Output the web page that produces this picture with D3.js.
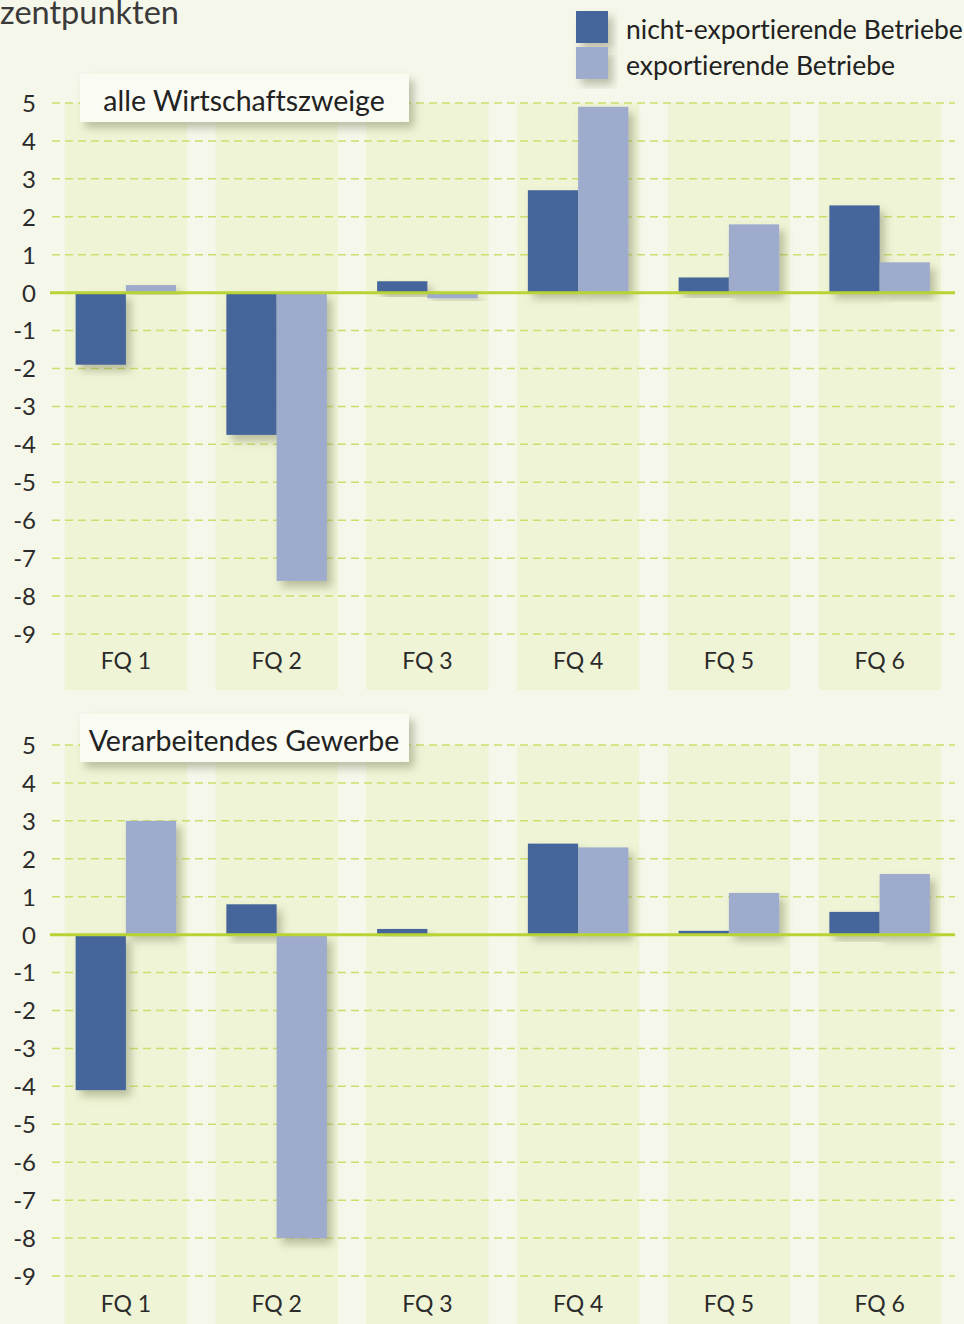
<!DOCTYPE html>
<html>
<head>
<meta charset="utf-8">
<script src="https://cdn.jsdelivr.net/npm/d3@7"></script>
<style>
  html, body { margin: 0; padding: 0; background: #f5f7ea; }
  svg { display: block; font-family: "Lato", "Noto Sans", sans-serif; font-variant-ligatures: none; }
</style>
</head>
<body>
<script>
// data
const categories = ["FQ 1", "FQ 2", "FQ 3", "FQ 4", "FQ 5", "FQ 6"]
const seriesNames = ["nicht-exportierende Betriebe", "exportierende Betriebe"]
const alleNicht = [-1.9, -3.75, 0.3, 2.7, 0.4, 2.3]
const alleExport = [0.2, -7.6, -0.15, 4.9, 1.8, 0.8]
const verarbNicht = [-4.1, 0.8, 0.15, 2.4, 0.1, 0.6]
const verarbExport = [3.0, -8.0, 0, 2.3, 1.1, 1.6]
const yTicks = [5, 4, 3, 2, 1, 0, -1, -2, -3, -4, -5, -6, -7, -8, -9]
const panelTitles = ["alle Wirtschaftszweige", "Verarbeitendes Gewerbe"]

const colors = ["#44659b", "#9eabcd"]
const width = 964, height = 1324

const svg = d3.select("body")
    .append("svg")
    .attr("width", width)
    .attr("height", height)

const defs = svg.append("defs")
const shadow = defs.append("filter")
    .attr("id", "shadow")
    .attr("x", "-30%").attr("y", "-30%")
    .attr("width", "160%").attr("height", "160%")
shadow.append("feDropShadow")
    .attr("dx", 5).attr("dy", 6)
    .attr("stdDeviation", 4.5)
    .attr("flood-color", "#6e7250")
    .attr("flood-opacity", 0.42)

svg.append("rect")
    .attr("width", width).attr("height", height)
    .attr("fill", "#f5f7ea")

const x = d3.scaleBand()
    .domain(categories)
    .range([50.5, 955])
    .paddingInner(0.19)
    .paddingOuter(0.095)

const x1 = d3.scaleBand()
    .domain(seriesNames)
    .range([0, x.bandwidth()])
    .paddingOuter(0.215)

const panels = [
    { title: panelTitles[0], top: 103, bottom: 634, bandTop: 103, bandBottom: 690, box: 74, data: [alleNicht, alleExport], labelY: 669 },
    { title: panelTitles[1], top: 745, bottom: 1276, bandTop: 745, bandBottom: 1324, box: 714, data: [verarbNicht, verarbExport], labelY: 1312 },
]

function drawPanel(p) {
    const y = d3.scaleLinear()
        .domain([-9, 5])
        .range([p.bottom, p.top])

    const g = svg.append("g")

    // column bands
    g.selectAll("rect.band")
        .data(categories)
        .join("rect")
        .attr("class", "band")
        .attr("x", d => x(d))
        .attr("y", p.bandTop)
        .attr("width", x.bandwidth())
        .attr("height", p.bandBottom - p.bandTop)
        .attr("fill", "#eff4d6")

    // dashed gridlines
    g.selectAll("line.grid")
        .data(yTicks.filter(d => d !== 0))
        .join("line")
        .attr("class", "grid")
        .attr("x1", 52).attr("x2", 955)
        .attr("y1", d => y(d)).attr("y2", d => y(d))
        .attr("stroke", "#cadf6e")
        .attr("stroke-width", 1.5)
        .attr("stroke-dasharray", "8,5")

    // y axis labels
    const yAxis = d3.axisLeft(y).tickValues(yTicks).tickSize(0).tickPadding(0)
        .tickFormat(d => d < 0 ? "-" + Math.abs(d) : d)
    const ax = g.append("g")
        .attr("transform", "translate(36,0)")
        .call(yAxis)
    ax.select(".domain").remove()
    ax.selectAll("text")
        .attr("font-size", 24)
        .attr("font-family", "Lato, 'Noto Sans', sans-serif")
        .attr("fill", "#2b2b2b")
        .attr("dy", "0.35em")

    // bars
    const rows = []
    categories.forEach((c, i) => {
        seriesNames.forEach((s, j) => {
            rows.push({ cat: c, series: s, value: p.data[j][i], j })
        })
    })
    g.append("g")
        .selectAll("rect")
        .data(rows.filter(d => d.value !== 0))
        .join("rect")
        .attr("x", d => x(d.cat) + x1(d.series))
        .attr("width", x1.bandwidth())
        .attr("y", d => y(Math.max(0, d.value)))
        .attr("height", d => Math.abs(y(d.value) - y(0)))
        .attr("fill", d => colors[d.j])
        .attr("filter", "url(#shadow)")

    // zero line
    g.append("line")
        .attr("x1", 50).attr("x2", 955)
        .attr("y1", y(0)).attr("y2", y(0))
        .attr("stroke", "#b8d334")
        .attr("stroke-width", 3)

    // category labels
    g.selectAll("text.cat")
        .data(categories)
        .join("text")
        .attr("class", "cat")
        .attr("x", d => x(d) + x.bandwidth() / 2)
        .attr("y", p.labelY)
        .attr("text-anchor", "middle")
        .attr("font-size", 23)
        .attr("fill", "#2b2b2b")
        .text(d => d)

    // panel title box
    g.append("rect")
        .attr("x", 80).attr("y", p.box)
        .attr("width", 329).attr("height", 48)
        .attr("fill", "#fafbf3")
        .attr("filter", "url(#shadow)")
    g.append("text")
        .attr("x", 244).attr("y", p.box + 37)
        .attr("text-anchor", "middle")
        .attr("font-size", 28.5)
        .attr("fill", "#222")
        .text(p.title)
}

panels.forEach(drawPanel)

// title fragment
svg.append("text")
    .attr("x", 0).attr("y", 24)
    .attr("font-size", 32.5)
    .attr("fill", "#3a3a3a")
    .text("zentpunkten")

// legend
const legend = svg.append("g")
seriesNames.forEach((s, i) => {
    legend.append("rect")
        .attr("x", 576).attr("y", 11 + i * 36)
        .attr("width", 32).attr("height", 32)
        .attr("fill", colors[i])
        .attr("filter", "url(#shadow)")
    legend.append("text")
        .attr("x", 626).attr("y", 39 + i * 36)
        .attr("font-size", 26.5)
        .attr("fill", "#222")
        .text(s)
})
</script>
</body>
</html>
